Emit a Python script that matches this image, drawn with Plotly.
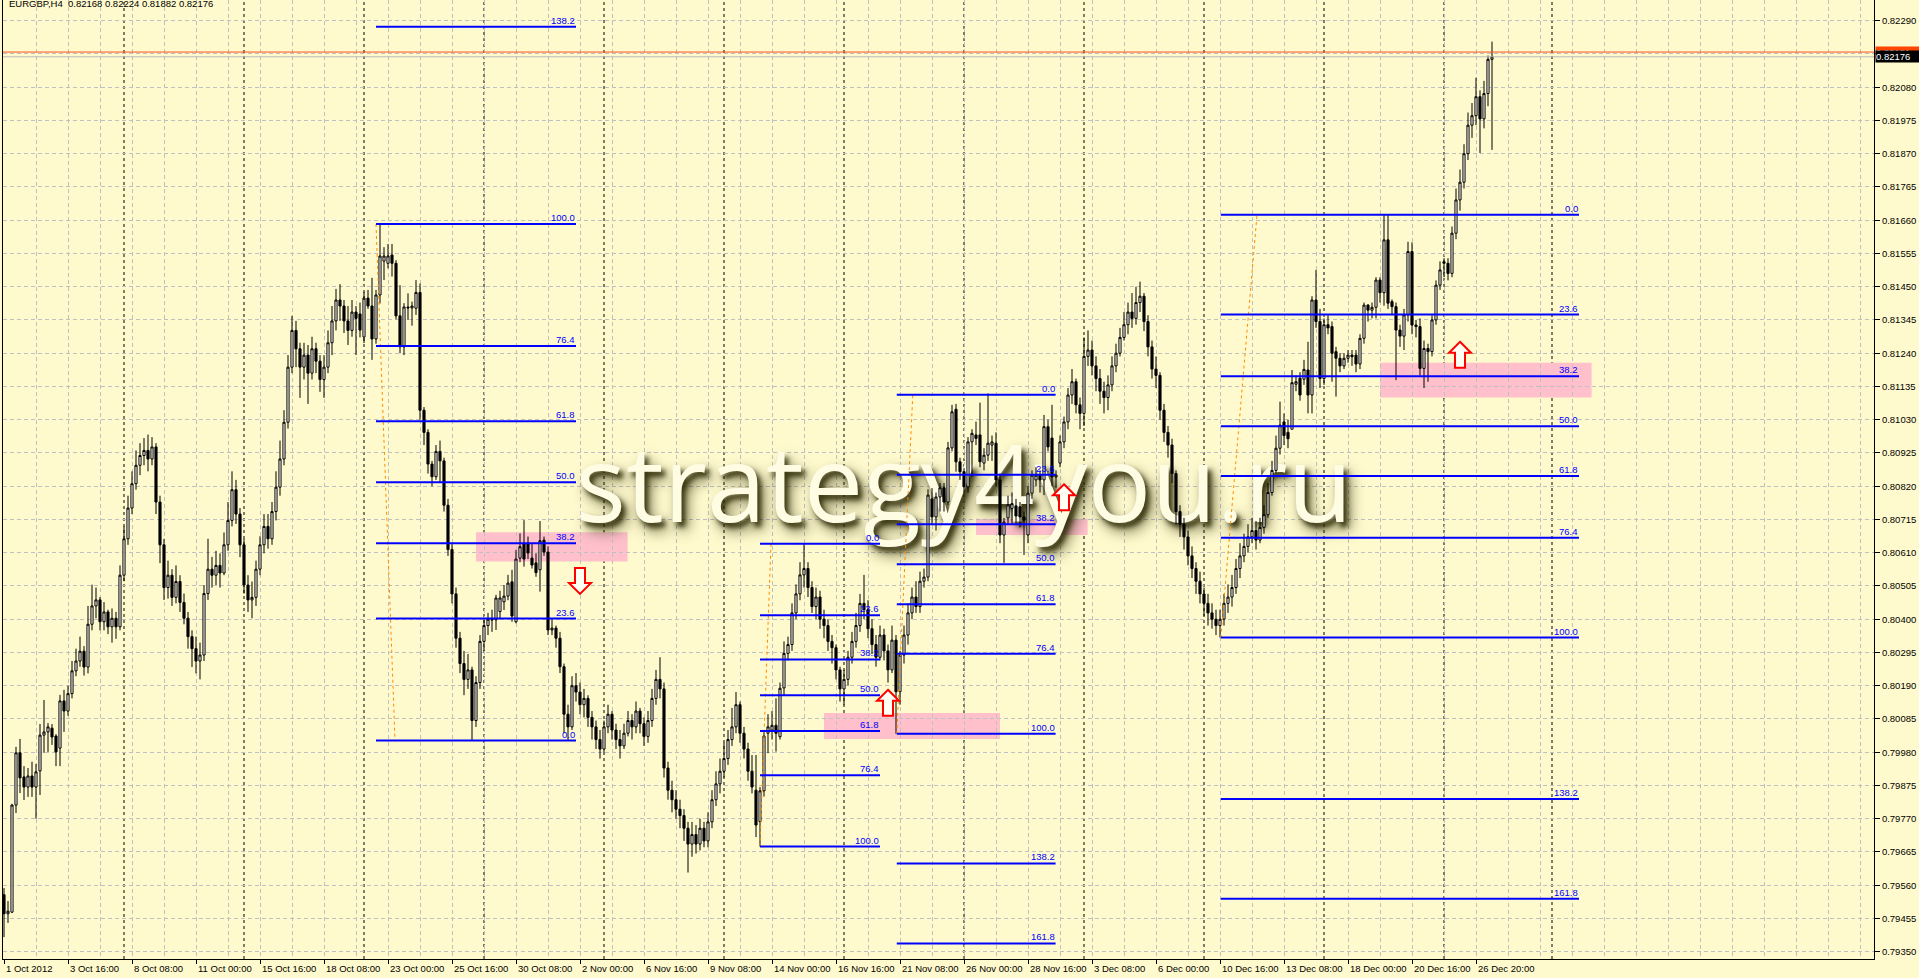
import plotly.graph_objects as go

# ---------------- candle data (price x 100000) ----------------
opens = [
79530,79470,79475,79813,79978,79902,79870,79905,79870,79921,
80034,80044,80056,80031,79993,80142,80110,80165,80237,80268,
80299,80249,80384,80442,80461,80392,80423,80376,80403,80376,
80539,80654,80751,80828,80886,80917,80933,80906,80944,80770,
80635,80500,80539,80469,80519,80453,80403,80345,80307,80268,
80287,80481,80558,80539,80570,80546,80635,80712,80809,80732,
80635,80508,80461,80469,80558,80635,80693,80654,80740,80817,
80906,81022,81196,81312,81254,81196,81234,81177,81254,81215,
81157,81196,81273,81342,81408,81389,81342,81312,81370,81364,
81291,81414,81389,81285,81424,81531,81524,81550,81524,81358,
81260,81386,81383,81382,81432,81060,80990,80890,80850,80930,
80900,80760,80620,80480,80340,80260,80210,80240,80080,80200,
80330,80380,80400,80398,80424,80455,80473,80518,80392,80593,
80640,80640,80593,80578,80556,80650,80612,80366,80372,80340,
80250,80100,80060,80190,80170,80130,80150,80090,80060,80020,
79990,80060,80100,80050,80020,80000,80040,80080,80060,80110,
80070,80030,80080,80150,80210,80180,79930,79860,79830,79800,
79780,79740,79690,79720,79690,79740,79700,79760,79830,79880,
79920,79960,80020,80060,80130,80040,79990,79920,79860,79761,
79858,80040,80050,80065,80029,80183,80292,80320,80420,80480,
80540,80560,80500,80440,80470,80400,80380,80330,80310,80240,
80180,80210,80280,80330,80380,80450,80430,80370,80320,80280,
80350,80300,80240,80334,80171,80287,80350,80420,80470,80440,
80520,80533,80780,80723,80786,80815,80770,80941,81063,80897,
80866,80818,80960,80982,80982,80893,80918,80950,80956,80840,
80666,80720,80750,80758,80755,80723,80666,80798,80840,80855,
80840,81008,80972,80849,80893,80960,81023,81108,81150,81077,
81050,81230,81250,81200,81160,81120,81100,81140,81200,81240,
81290,81330,81370,81350,81400,81420,81340,81260,81190,81170,
81060,80990,80950,80860,80740,80700,80660,80600,80560,80520,
80480,80450,80420,80400,80380,80400,80450,80470,80500,80560,
80600,80630,80660,80680,80650,80690,80730,80800,80870,80940,
81023,80990,81000,81142,81161,81158,81187,81108,81408,81340,
81160,81330,81324,81245,81224,81200,81224,81234,81234,81206,
81287,81392,81376,81385,81471,81431,81598,81403,81387,81313,
81294,81361,81561,81329,81324,81192,81255,81245,81345,81455,
81529,81524,81492,81619,81724,81780,81870,81960,81990,82050,
81980,82060,82168]
highs = [
79551,79510,79817,79997,80022,79936,79930,79950,79943,80069,
80145,80072,80069,80037,80161,80177,80190,80268,80307,80345,
80315,80442,80509,80500,80470,80454,80430,80434,80423,80570,
80693,80790,80867,80933,80956,80972,80983,80975,80956,80790,
80654,80585,80558,80570,80539,80481,80423,80365,80345,80326,
80508,80654,80597,80616,80608,80674,80770,80867,80840,80751,
80654,80539,80519,80585,80662,80732,80732,80770,80867,80964,
81060,81234,81358,81342,81273,81273,81266,81292,81273,81234,
81234,81312,81389,81443,81458,81408,81389,81408,81389,81400,
81433,81440,81478,81440,81648,81575,81585,81585,81534,81455,
81398,81429,81403,81471,81460,81070,81000,80900,80950,80964,
80910,80780,80640,80500,80360,80300,80290,80250,80220,80350,
80400,80420,80430,80477,80490,80508,80540,80556,80619,80671,
80713,80661,80640,80608,80710,80661,80630,80400,80380,80360,
80260,80130,80220,80230,80200,80180,80160,80110,80080,80050,
80080,80130,80110,80070,80050,80070,80110,80100,80140,80120,
80090,80110,80180,80240,80280,80200,79950,79890,79860,79830,
79800,79760,79760,79750,79770,79760,79790,79860,79920,79960,
80010,80050,80120,80170,80140,80060,80010,79971,79971,79870,
80045,80100,80110,80150,80200,80330,80345,80450,80510,80580,
80638,80580,80520,80500,80490,80430,80400,80350,80320,80250,
80240,80300,80360,80420,80480,80540,80460,80400,80350,80380,
80370,80320,80380,80350,80300,80380,80450,80500,80520,80550,
80560,80810,80814,80800,80830,80830,80960,81077,81080,80910,
80877,80975,81000,81024,81084,80940,81113,80980,80990,80860,
80720,80790,80800,80780,80770,80740,80820,80870,80880,80870,
81045,81030,81077,80870,80980,81040,81130,81190,81160,81100,
81290,81312,81280,81230,81190,81150,81170,81230,81270,81320,
81370,81400,81430,81450,81466,81430,81360,81280,81230,81180,
81080,81010,80970,80870,80760,80720,80680,80630,80580,80550,
80500,80480,80450,80430,80430,80480,80510,80540,80590,80640,
80670,80700,80720,80710,80720,80760,80830,80900,80980,81087,
81050,81030,81187,81170,81180,81219,81276,81420,81503,81380,
81350,81360,81340,81260,81240,81240,81250,81250,81250,81300,
81400,81395,81400,81480,81480,81677,81677,81410,81400,81330,
81380,81592,81590,81345,81350,81280,81270,81360,81470,81530,
81540,81540,81640,81760,81820,81900,82000,82030,82110,82070,
82100,82180,82224]
lows = [
79396,79441,79472,79788,79851,79829,79839,79839,79770,79845,
79978,79981,80003,79936,79936,80044,80095,80150,80220,80250,
80222,80229,80365,80403,80365,80365,80353,80326,80338,80365,
80520,80635,80732,80809,80855,80886,80867,80886,80732,80577,
80461,80465,80442,80450,80423,80384,80307,80249,80229,80210,
80268,80461,80500,80508,80500,80539,80616,80693,80701,80596,
80481,80423,80403,80442,80539,80608,80623,80635,80712,80790,
80886,81002,81177,81196,81099,81157,81080,81157,81177,81118,
81099,81177,81234,81312,81342,81304,81266,81292,81234,81290,
81272,81380,81219,81270,81397,81471,81508,81482,81347,81240,
81234,81345,81327,81361,81030,80950,80860,80820,80840,80830,
80740,80600,80450,80310,80230,80160,80180,80017,80060,80180,
80300,80350,80360,80366,80400,80429,80460,80392,80387,80580,
80566,80590,80560,80534,80487,80600,80350,80350,80310,80230,
80040,80017,80050,80140,80100,80090,80060,80020,79990,79960,
79980,80040,80020,79990,79960,79990,80030,80020,80040,80040,
80000,80010,80060,80130,80150,79900,79830,79790,79770,79740,
79700,79600,79650,79660,79670,79680,79680,79740,79810,79850,
79900,79940,80000,80040,80010,79960,79890,79850,79712,79682,
79840,79977,80020,79982,80020,80160,80270,80300,80400,80460,
80500,80470,80420,80400,80370,80340,80300,80260,80210,80140,
80130,80190,80260,80310,80360,80400,80340,80290,80250,80270,
80270,80200,80230,80038,80130,80260,80320,80400,80420,80420,
80500,80520,80700,80680,80740,80740,80760,80930,80866,80840,
80800,80800,80850,80950,80880,80870,80900,80900,80820,80640,
80578,80700,80700,80700,80690,80603,80640,80780,80820,80800,
80792,80930,80820,80815,80880,80940,81000,81080,81050,81000,
81010,81200,81170,81120,81080,81050,81060,81120,81180,81230,
81280,81300,81320,81330,81370,81310,81230,81160,81130,81030,
80960,80910,80830,80700,80660,80620,80570,80530,80480,80450,
80410,80380,80370,80350,80342,80380,80420,80440,80480,80530,
80580,80610,80640,80620,80640,80670,80720,80790,80860,80920,
80950,80940,81000,81120,81090,81140,81050,81050,81320,81130,
81140,81300,81150,81103,81180,81190,81210,81200,81180,81190,
81270,81340,81350,81350,81400,81390,81380,81360,81155,81260,
81250,81340,81300,81290,81170,81130,81150,81230,81330,81440,
81480,81470,81480,81600,81690,81760,81850,81920,81960,81872,
81950,82020,81882]
closes = [
79470,79478,79813,79978,79899,79870,79905,79870,79918,80034,
80044,80060,80028,79981,80142,80110,80165,80237,80268,80299,
80249,80384,80442,80461,80392,80423,80376,80403,80376,80539,
80654,80751,80828,80886,80917,80933,80906,80944,80770,80635,
80500,80539,80469,80519,80453,80403,80345,80307,80268,80287,
80481,80558,80539,80570,80546,80635,80712,80809,80732,80635,
80508,80461,80469,80558,80635,80693,80654,80740,80817,80906,
81022,81196,81312,81254,81196,81234,81177,81254,81215,81157,
81196,81273,81342,81408,81389,81342,81312,81370,81350,81313,
81414,81389,81285,81424,81547,81547,81547,81524,81358,81260,
81386,81383,81389,81432,81060,80990,80890,80850,80930,80900,
80760,80620,80480,80340,80260,80210,80240,80080,80200,80330,
80380,80400,80398,80467,80467,80473,80514,80410,80590,80629,
80590,80609,80571,80547,80648,80612,80366,80372,80340,80250,
80100,80060,80190,80170,80130,80150,80090,80060,80020,79990,
80060,80100,80050,80020,80000,80040,80080,80060,80110,80070,
80030,80080,80150,80210,80180,79930,79860,79830,79800,79780,
79740,79690,79720,79690,79740,79700,79760,79830,79880,79920,
79960,80020,80060,80130,80040,79990,79920,79870,79750,79858,
80031,80060,80065,80040,80182,80292,80320,80420,80480,80540,
80560,80500,80440,80470,80400,80380,80330,80310,80240,80180,
80210,80280,80330,80380,80450,80430,80370,80320,80280,80350,
80300,80240,80334,80171,80287,80350,80420,80470,80440,80520,
80533,80792,80723,80786,80815,80770,80941,81055,80897,80866,
80818,80960,80987,80971,80897,80918,80956,80960,80840,80666,
80707,80761,80765,80726,80723,80713,80798,80855,80855,80840,
81008,80944,80849,80855,80960,81023,81108,81150,81077,81050,
81230,81250,81200,81160,81120,81100,81140,81200,81240,81290,
81330,81370,81350,81400,81420,81340,81260,81190,81170,81060,
80990,80950,80860,80740,80700,80660,80600,80560,80520,80480,
80450,80420,80400,80380,80400,80450,80470,80500,80560,80600,
80630,80660,80680,80650,80690,80730,80800,80870,80940,81013,
80980,80970,81147,81150,81108,81189,81108,81408,81340,81160,
81330,81320,81240,81224,81200,81224,81234,81229,81206,81287,
81392,81376,81385,81471,81431,81598,81398,81387,81313,81294,
81361,81561,81329,81324,81192,81255,81245,81345,81455,81503,
81524,81492,81619,81724,81780,81870,81960,81990,82050,81980,
82060,82168,82176]
PRICE_SCALE = 100000.0
assert len(opens) == len(highs) == len(lows) == len(closes)

# ---------------- axes ----------------
x_tick_bars = [0, 16, 32, 48, 64, 80, 96, 112, 128, 144, 160, 176, 192, 208,
               224, 240, 256, 272, 288, 304, 320, 336, 352, 368]
x_tick_labels = ["1 Oct 2012", "3 Oct 16:00", "8 Oct 08:00", "11 Oct 00:00",
                 "15 Oct 16:00", "18 Oct 08:00", "23 Oct 00:00", "25 Oct 16:00",
                 "30 Oct 08:00", "2 Nov 00:00", "6 Nov 16:00", "9 Nov 08:00",
                 "14 Nov 00:00", "16 Nov 16:00", "21 Nov 08:00", "26 Nov 00:00",
                 "28 Nov 16:00", "3 Dec 08:00", "6 Dec 00:00", "10 Dec 16:00",
                 "13 Dec 08:00", "18 Dec 00:00", "20 Dec 16:00", "26 Dec 20:00"]
y_tick_labels = ["0.79350", "0.79455", "0.79560", "0.79665", "0.79770", "0.79875",
                 "0.79980", "0.80085", "0.80190", "0.80295", "0.80400", "0.80505",
                 "0.80610", "0.80715", "0.80820", "0.80925", "0.81030", "0.81135",
                 "0.81240", "0.81345", "0.81450", "0.81555", "0.81660", "0.81765",
                 "0.81870", "0.81975", "0.82080", "0.82185", "0.82290"]
week_sep_bars = [30, 60, 90, 120, 150, 180, 210, 240, 270, 300, 330, 360, 387]

# ---------------- fibonacci objects ----------------
fib_levels = [0.0, 23.6, 38.2, 50.0, 61.8, 76.4, 100.0, 138.2, 161.8]
fib_x_start = [93, 189, 223.2, 304.2]
fib_x_end = [143, 219, 262.9, 393.75]
fib_price_0 = [0.80017, 0.80638, 0.81109, 0.81677]
fib_price_100 = [0.81648, 0.79682, 0.80038, 0.80342]
fib_trend_x100 = [93, 189, 223.2, 304.2]
fib_trend_x0 = [97.75, 191.75, 227.2, 313.25]

# ---------------- zones / arrows ----------------
zone_x0 = [118, 205, 243, 344]
zone_x1 = [155.9, 249, 270.9, 396.9]
zone_top = [0.80675, 0.80104, 0.80717, 0.81210]
zone_bottom = [0.80582, 0.80022, 0.80666, 0.81100]

arrow_bars = [144, 221, 265, 364]
arrow_tips = [0.80480, 0.80177, 0.80826, 0.81276]
arrow_dirs = ["down", "up", "up", "up"]

ask_price = 0.82191
bid_price = 0.82176
header_text = "EURGBP,H4  0.82168 0.82224 0.81882 0.82176"
watermark_text = "strategy4you.ru"
watermark_bar = 240
watermark_price = 0.80790

# ---------------- styling ----------------
BG = "#FFFACD"
GRID = "#C0C0C0"
FONT = "Liberation Sans, Arial, sans-serif"
FS = 9.5
X_RANGE = [-0.25, 467.5]
Y_RANGE = [0.79327, 0.823554]

bars = list(range(len(closes)))
o = [v / PRICE_SCALE for v in opens]
h = [v / PRICE_SCALE for v in highs]
l = [v / PRICE_SCALE for v in lows]
c = [v / PRICE_SCALE for v in closes]

fig = go.Figure()

# watermark (base axes, drawn underneath the candles on the overlay axes)
fig.add_trace(go.Scatter(
    x=[watermark_bar], y=[watermark_price], mode="text", text=[watermark_text],
    textposition="middle center",
    textfont=dict(family="Open Sans", size=106, color="#FFFCE4",
                  shadow="4px 5px 5px rgba(40,38,0,0.85), 6px 8px 14px rgba(40,38,0,0.7)"),
    hoverinfo="skip", showlegend=False, xaxis="x", yaxis="y"))

fig.add_trace(go.Candlestick(
    x=bars, open=o, high=h, low=l, close=c,
    xaxis="x2", yaxis="y2",
    increasing=dict(line=dict(color="black", width=1), fillcolor="white"),
    decreasing=dict(line=dict(color="black", width=1), fillcolor="black"),
    whiskerwidth=0, hoverinfo="skip", showlegend=False))

shapes = []
annotations = []

for x0, x1, t, b in zip(zone_x0, zone_x1, zone_top, zone_bottom):
    shapes.append(dict(type="rect", xref="x", yref="y", x0=x0, x1=x1, y0=b, y1=t,
                       fillcolor="#FFC0CB", line=dict(width=0), layer="below"))

for xb in week_sep_bars:
    shapes.append(dict(type="line", xref="x", yref="paper", x0=xb, x1=xb, y0=0, y1=1,
                       line=dict(color="black", width=1, dash="3px,3px"), layer="below"))

# ask / bid lines
shapes.append(dict(type="line", xref="paper", yref="y", x0=0, x1=1, y0=bid_price, y1=bid_price,
                   line=dict(color="#B8B8B8", width=1), layer="above"))
shapes.append(dict(type="line", xref="paper", yref="y", x0=0, x1=1, y0=ask_price, y1=ask_price,
                   line=dict(color="#FF5020", width=1), layer="above"))

for i in range(len(fib_x_start)):
    p0, p100 = fib_price_0[i], fib_price_100[i]
    shapes.append(dict(type="line", xref="x", yref="y",
                       x0=fib_trend_x100[i], y0=p100, x1=fib_trend_x0[i], y1=p0,
                       line=dict(color="#FF8C00", width=1, dash="3px,3px"), layer="above"))
    for lev in fib_levels:
        p = p0 + (p100 - p0) * lev / 100.0
        if p < Y_RANGE[0] - 0.0003 or p > Y_RANGE[1]:
            continue
        shapes.append(dict(type="line", xref="x", yref="y", x0=fib_x_start[i], x1=fib_x_end[i],
                           y0=p, y1=p, line=dict(color="#0000FF", width=2), layer="above"))
        annotations.append(dict(x=fib_x_end[i], y=p, xref="x", yref="y", text=f"{lev:.1f}",
                                xanchor="right", yanchor="bottom", showarrow=False, borderpad=0,
                                font=dict(family=FONT, size=FS, color="#0000FF")))

for xb, tip, d in zip(arrow_bars, arrow_tips, arrow_dirs):
    s = 1 if d == "down" else -1
    path = (f"M 0 0 L 11 {11*s} L 5 {11*s} L 5 {26*s} L -5 {26*s} "
            f"L -5 {11*s} L -11 {11*s} Z")
    shapes.append(dict(type="path", xref="x", yref="y", xsizemode="pixel", ysizemode="pixel",
                       xanchor=xb, yanchor=tip, path=path, fillcolor="#FFFFF4",
                       line=dict(color="#FF0000", width=2), layer="above"))

# x axis labels (left aligned at their tick, MT4 style)
for xb, lab in zip(x_tick_bars, x_tick_labels):
    annotations.append(dict(x=xb, y=0, xref="x", yref="paper", text=lab, xanchor="left",
                            yanchor="top", yshift=-2, xshift=0, showarrow=False, borderpad=1,
                            font=dict(family=FONT, size=FS, color="black")))

# header
annotations.append(dict(x=0, y=1, xref="paper", yref="paper", text=header_text,
                        xanchor="left", yanchor="top", xshift=4, yshift=4, showarrow=False,
                        font=dict(family=FONT, size=FS, color="black")))

# price boxes on the axis
annotations.append(dict(x=1, y=ask_price, xref="paper", yref="y", text=f"{ask_price:.5f}",
                        xanchor="left", yanchor="middle", xshift=1, showarrow=False,
                        bgcolor="#FF4500", borderpad=0, width=44, height=11, align="left",
                        font=dict(family=FONT, size=FS, color="white")))
annotations.append(dict(x=1, y=bid_price, xref="paper", yref="y", text=f"{bid_price:.5f}",
                        xanchor="left", yanchor="middle", xshift=1, showarrow=False,
                        bgcolor="black", borderpad=0, width=44, height=11, align="left",
                        font=dict(family=FONT, size=FS, color="white")))

fig.update_layout(
    width=1919, height=978,
    margin=dict(l=3, r=45, t=0, b=19, pad=0),
    paper_bgcolor=BG, plot_bgcolor=BG,
    showlegend=False,
    boxgap=0.25,
    shapes=shapes, annotations=annotations,
    xaxis=dict(range=X_RANGE, tickmode="array", tickvals=x_tick_bars, showticklabels=False,
               ticks="outside", ticklen=4, tickcolor="black", showgrid=False, zeroline=False,
               showline=True, linecolor="black", linewidth=1, fixedrange=True,
               minor=dict(tickmode="linear", tick0=0, dtick=8, showgrid=True, gridcolor=GRID,
                          griddash="4px,3px", gridwidth=1, ticks="")),
    yaxis=dict(range=Y_RANGE, side="right", tickmode="array",
               tickvals=[float(s) for s in y_tick_labels], ticktext=y_tick_labels,
               ticks="outside", ticklen=5, tickcolor="black", showgrid=True, gridcolor=GRID,
               griddash="4px,3px", zeroline=False, showline=True, mirror=True,
               linecolor="black", linewidth=1, fixedrange=True,
               tickfont=dict(family=FONT, size=FS, color="black")),
    xaxis2=dict(range=X_RANGE, overlaying="x", anchor="y2", visible=False,
                rangeslider=dict(visible=False), fixedrange=True),
    yaxis2=dict(range=Y_RANGE, overlaying="y", anchor="x2", visible=False, fixedrange=True),
)

page_fix = ("document.documentElement.style.margin='0';document.body.style.margin='0';"
            "document.body.style.padding='0';document.body.style.overflow='hidden';"
            "document.documentElement.style.overflow='hidden';"
            "document.body.style.background='#FFFACD';")

fig.write_html("out.html", post_script=page_fix, config={"displayModeBar": False})
